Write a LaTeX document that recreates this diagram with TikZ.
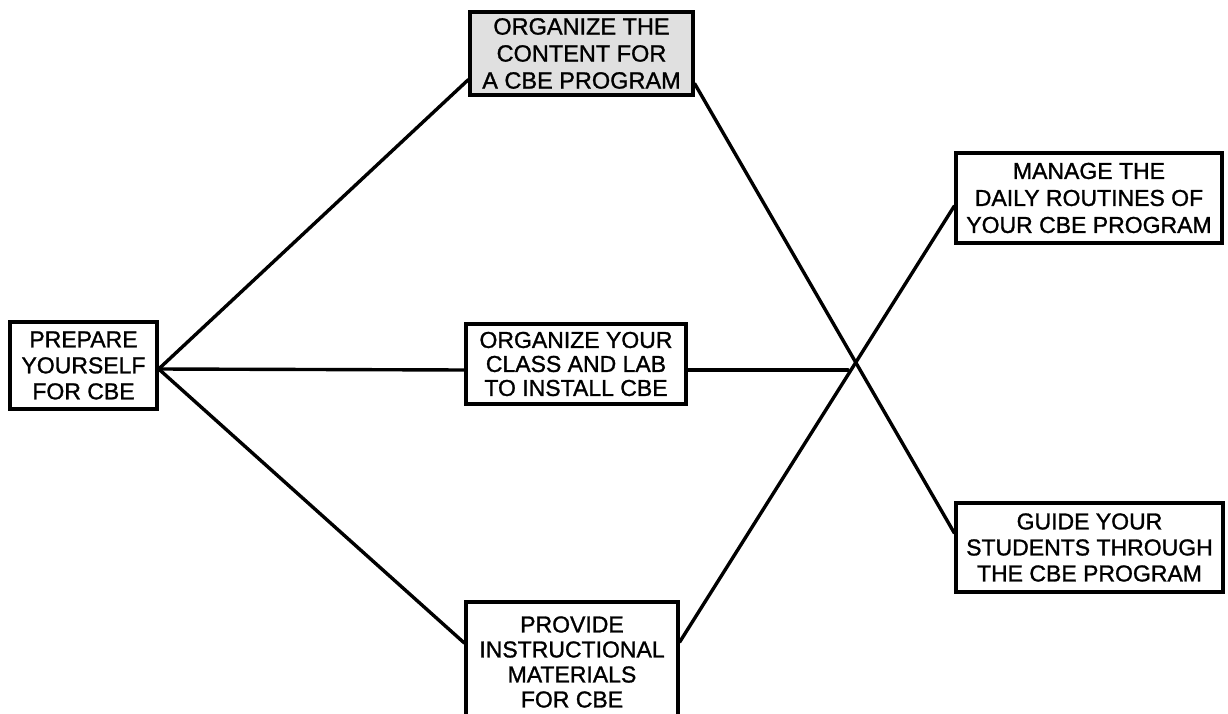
\documentclass[tikz,border=0pt]{standalone}
\usepackage{fontspec}
\setmainfont{Liberation Sans}[FakeBold=1.2]
\newfontfamily\boxfont{Liberation Sans}[FakeBold=1.2]
\usetikzlibrary{calc}
\tikzset{
  box/.style={draw=black, line width=3.4pt, rectangle, inner sep=0pt, align=center,
    font=\boxfont\fontsize{23}{26}\selectfont, fill=white},
  link/.style={draw=black, line width=3.4pt, line cap=round}
}
\begin{document}
\begin{tikzpicture}[x=1pt,y=-1pt]
\useasboundingbox (0,0) rectangle (1228,714);
\clip (0,0) rectangle (1228,714);
\coordinate (hend) at (848,370);
\node[box, minimum width=147pt, minimum height=87pt] (prep) at (83.5,365.5) {PREPARE\\YOURSELF\\FOR CBE};
\node[box, fill=black!12, minimum width=223pt, minimum height=83pt, font=\boxfont\fontsize{23.5}{27}\selectfont] (content) at (581.5,53.5) {ORGANIZE THE\\CONTENT FOR\\A CBE PROGRAM};
\node[box, minimum width=220pt, minimum height=80pt, font=\boxfont\fontsize{23}{24}\selectfont] (class) at (576,364) {ORGANIZE YOUR\\CLASS AND LAB\\TO INSTALL CBE};
\node[box, minimum width=212pt, minimum height=120pt, font=\boxfont\fontsize{23}{25}\selectfont] (provide) at (572,662) {PROVIDE\\INSTRUCTIONAL\\MATERIALS\\FOR CBE};
\node[box, minimum width=266pt, minimum height=90pt, font=\boxfont\fontsize{23}{27}\selectfont] (manage) at (1089,198) {MANAGE THE\\DAILY ROUTINES OF\\YOUR CBE PROGRAM};
\node[box, minimum width=267pt, minimum height=89pt] (guide) at (1089.5,547.5) {GUIDE YOUR\\STUDENTS THROUGH\\THE CBE PROGRAM};
\draw[link] ($(prep.east)+(0,3.5)$) -- ($(content.south west)+(0,-17)$);
\draw[link] ($(prep.east)+(0,3.5)$) -- ($(class.west)+(0,6)$);
\draw[link] ($(prep.east)+(0,3.5)$) -- ($(provide.west)+(0,-19)$);
\draw[link] ($(class.east)+(0,6)$) -- (hend);
\draw[link] ($(content.south east)+(0,-13)$) -- ($(guide.west)+(0,-14.5)$);
\draw[link] ($(provide.east)+(0,-20)$) -- ($(manage.west)+(0,8)$);
\end{tikzpicture}
\end{document}
